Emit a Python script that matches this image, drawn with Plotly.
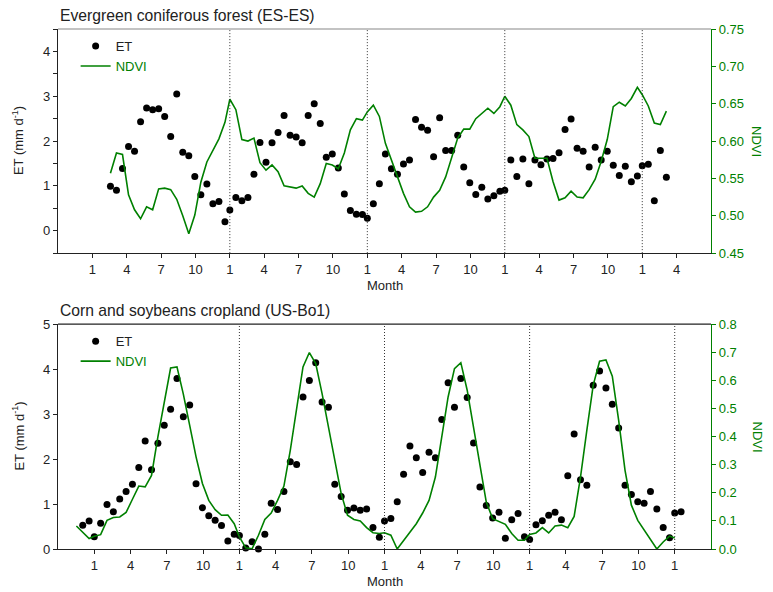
import plotly.graph_objects as go
from plotly.subplots import make_subplots

# ---------------- data (16-day composites) ----------------
COMPOSITE_DAYS = 16
COMPOSITES_PER_YEAR = 23
TICK_LABELS = ["1", "4", "7", "10"]

# Evergreen coniferous forest (ES-ES): first composite = year 0, composite #3
ES_START = (0, 3)
ES_ET = [
    0.99, 0.90, 1.39, 1.88, 1.77, 2.43, 2.74, 2.70, 2.72, 2.55, 2.10, 3.05, 1.75, 1.67, 1.21, 0.80, 1.04, 0.60, 0.65, 0.20,
    0.46, 0.74, 0.67, 0.74, 1.26, 1.97, 1.53, 1.96, 2.19, 2.57, 2.13, 2.09, 1.96, 2.57, 2.83, 2.39, 1.64, 1.71, 1.40, 0.82, 0.45, 0.37, 0.36,
    0.28, 0.60, 1.05, 1.71, 1.38, 1.26, 1.49, 1.58, 2.48, 2.31, 2.24, 1.65, 2.52, 1.79, 1.79, 2.13, 1.42, 1.07, 0.81, 0.97, 0.71, 0.78, 0.88,
    0.90, 1.58, 1.21, 1.60, 1.05, 1.58, 1.47, 1.60, 1.61, 1.74, 2.26, 2.49, 1.84, 1.77, 1.42, 1.86, 1.58, 1.77, 1.46, 1.23, 1.44, 1.09, 1.22,
    1.45, 1.48, 0.67, 1.79, 1.19,
]
ES_NDVI = [
    0.557, 0.584, 0.582, 0.528, 0.508, 0.496, 0.512, 0.508, 0.536, 0.537, 0.535, 0.522, 0.500, 0.476, 0.501, 0.545, 0.572, 0.587, 0.603, 0.625,
    0.656, 0.642, 0.602, 0.600, 0.604, 0.571, 0.561, 0.568, 0.559, 0.540, 0.539, 0.537, 0.540, 0.530, 0.525, 0.543, 0.570, 0.568, 0.563, 0.584, 0.615, 0.630, 0.628,
    0.639, 0.648, 0.633, 0.597, 0.575, 0.552, 0.530, 0.512, 0.505, 0.506, 0.512, 0.525, 0.534, 0.552, 0.577, 0.604, 0.616, 0.616, 0.630, 0.637, 0.644, 0.637, 0.646,
    0.660, 0.648, 0.622, 0.615, 0.606, 0.577, 0.577, 0.577, 0.546, 0.521, 0.524, 0.533, 0.525, 0.524, 0.535, 0.549, 0.573, 0.602, 0.646, 0.652, 0.647, 0.657, 0.672,
    0.662, 0.647, 0.624, 0.622, 0.640,
]

# Corn and soybeans cropland (US-Bo1)
BO_ET_START = (-1, 21)
BO_ET = [
    0.53, 0.62,
    0.27, 0.57, 0.99, 0.83, 1.11, 1.28, 1.44, 1.81, 2.40, 1.76, 2.35, 2.75, 3.11, 3.79, 2.94, 3.20, 1.45, 0.92, 0.74, 0.64, 0.52, 0.18, 0.33,
    0.30, 0.02, 0.16, 0.00, 0.33, 1.02, 0.88, 1.28, 1.94, 1.88, 3.38, 3.75, 4.14, 3.27, 3.15, 1.44, 1.17, 0.86, 0.91, 0.86, 0.89, 0.48, 0.26,
    0.62, 0.68, 1.05, 1.66, 2.29, 2.03, 1.70, 2.15, 2.03, 2.88, 3.70, 3.15, 3.79, 3.37, 2.36, 1.38, 0.97, 0.69, 0.82, 0.24, 0.65, 0.79, 0.27,
    0.21, 0.54, 0.63, 0.75, 0.82, 0.65, 1.63, 2.56, 1.54, 1.42, 3.64, 3.96, 3.58, 3.22, 2.69, 1.42, 1.21, 1.05, 1.02, 1.28, 0.89, 0.48, 0.25,
    0.80, 0.83,
]
BO_NDVI_START = (-1, 20)
BO_NDVI = [
    0.082, 0.058, 0.037,
    0.045, 0.051, 0.102, 0.112, 0.114, 0.130, 0.177, 0.224, 0.221, 0.262, 0.399, 0.523, 0.644, 0.648, 0.551, 0.440, 0.328, 0.233, 0.173, 0.140, 0.120, 0.121, 0.090,
    0.043, 0.004, 0.001, 0.049, 0.105, 0.128, 0.173, 0.224, 0.351, 0.496, 0.648, 0.699, 0.660, 0.553, 0.434, 0.310, 0.197, 0.120, 0.105, 0.100, 0.076, 0.058, 0.055,
    0.058, 0.049, 0.000, 0.031, 0.061, 0.090, 0.128, 0.173, 0.256, 0.399, 0.541, 0.642, 0.663, 0.565, 0.434, 0.292, 0.167, 0.108, 0.099, 0.088, 0.055, 0.031, 0.031,
    0.052, 0.057, 0.076, 0.057, 0.082, 0.085, 0.076, 0.116, 0.256, 0.423, 0.583, 0.668, 0.673, 0.615, 0.458, 0.280, 0.156, 0.102, 0.067, 0.033, 0.000, 0.025, 0.046,
    0.039,
]


def composite_months(start, n):
    """Month position (0 = Jan 1 of first year) of each 16-day composite."""
    year, k = start
    out = []
    for _ in range(n):
        out.append(year * 12 + COMPOSITE_DAYS * k * 12 / 365)
        k += 1
        if k == COMPOSITES_PER_YEAR:
            k, year = 0, year + 1
    return out


GREEN = "#008000"
DARK = "#222"
FONT = "Liberation Sans, Arial, sans-serif"

fig = make_subplots(rows=2, cols=1, specs=[[{"secondary_y": True}], [{"secondary_y": True}]])

# top panel
fig.add_trace(go.Scatter(x=composite_months(ES_START, len(ES_ET)), y=ES_ET, mode="markers", name="ET",
                         marker=dict(color="black", size=7), cliponaxis=False, legend="legend"),
              row=1, col=1, secondary_y=False)
fig.add_trace(go.Scatter(x=composite_months(ES_START, len(ES_NDVI)), y=ES_NDVI, mode="lines",
                         name=f"<span style='color:{GREEN}'>NDVI</span>",
                         line=dict(color=GREEN, width=1.6), legend="legend"),
              row=1, col=1, secondary_y=True)
# bottom panel
fig.add_trace(go.Scatter(x=composite_months(BO_ET_START, len(BO_ET)), y=BO_ET, mode="markers", name="ET",
                         marker=dict(color="black", size=7), cliponaxis=False, legend="legend2"),
              row=2, col=1, secondary_y=False)
fig.add_trace(go.Scatter(x=composite_months(BO_NDVI_START, len(BO_NDVI)), y=BO_NDVI, mode="lines",
                         name=f"<span style='color:{GREEN}'>NDVI</span>",
                         line=dict(color=GREEN, width=1.6), legend="legend2"),
              row=2, col=1, secondary_y=True)

# The page body has an 8px margin, so the figure is drawn 8px smaller and everything
# is laid out in page pixels minus that offset.
OFF = 8
W, H = 773 - OFF, 592 - OFF
PLOT_L, PLOT_R = 58 - OFF, 711.5 - OFF
TOP_T, TOP_B = 29 - OFF, 253 - OFF
BOT_T, BOT_B = 324 - OFF, 548.7 - OFF
ML, MR, MT, MB = PLOT_L, W - PLOT_R, TOP_T, H - BOT_B
PH = H - MT - MB
top_dom = [(BOT_B - TOP_B) / PH, 1.0]
bot_dom = [0.0, (BOT_B - BOT_T) / PH]

tickfont = dict(family=FONT, size=13, color=DARK)
xcommon = dict(showgrid=False, zeroline=False, showline=True, linecolor=DARK, linewidth=1.2, automargin=False,
               ticks="outside", ticklen=4, tickcolor=DARK, tickfont=tickfont)
ycommon = dict(showgrid=False, zeroline=False, showline=True, linecolor=DARK, linewidth=1.2, automargin=False,
               ticks="outside", ticklen=4, tickcolor=DARK, tickfont=tickfont)
rcommon = dict(showgrid=False, zeroline=False, showline=True, linecolor=GREEN, linewidth=1.2, automargin=False,
               ticks="outside", ticklen=4, tickcolor=GREEN, tickfont=dict(family=FONT, size=13, color=GREEN))

legend_common = dict(x=0.027, xanchor="left", yanchor="top", bgcolor="rgba(0,0,0,0)",
                     font=dict(family=FONT, size=13, color=DARK), tracegroupgap=0, itemwidth=30)

fig.update_layout(
    width=W, height=H, margin=dict(l=ML, r=MR, t=MT, b=MB, autoexpand=False),
    paper_bgcolor="white", plot_bgcolor="white",
    font=dict(family=FONT, size=13, color=DARK),
    xaxis=dict(**xcommon, domain=[0, 1], anchor="y", range=[-3, 54],
               tickvals=list(range(0, 52, 3)), ticktext=[TICK_LABELS[(i // 3) % 4] for i in range(0, 52, 3)]),
    yaxis=dict(**ycommon, domain=top_dom, anchor="x", range=[-0.5, 4.5], tick0=0, dtick=1,
               minor=dict(dtick=0.5, tick0=0, ticks="outside", ticklen=4, tickcolor=DARK, showgrid=False)),
    yaxis2=dict(**rcommon, anchor="x", overlaying="y", side="right", range=[0.45, 0.75], tick0=0.45, dtick=0.05,
                tickformat=".2f"),
    xaxis2=dict(**xcommon, domain=[0, 1], anchor="y3", range=[-3, 51],
                tickvals=list(range(0, 49, 3)), ticktext=[TICK_LABELS[(i // 3) % 4] for i in range(0, 49, 3)]),
    yaxis3=dict(**ycommon, domain=bot_dom, anchor="x2", range=[0, 5], dtick=1),
    yaxis4=dict(**rcommon, anchor="x2", overlaying="y3", side="right", range=[0, 0.8], dtick=0.1,
                tickformat=".1f"),
    legend=dict(**legend_common, y=top_dom[1] - 0.004),
    legend2=dict(**legend_common, y=bot_dom[1] - 0.004),
    showlegend=True,
)

# year boundaries (dotted) and top frame lines
shapes = []
for xr, yr, col in (("x", "y", "#888"), ("x2", "y3", DARK)):
    for b in (12, 24, 36, 48):
        shapes.append(dict(type="line", xref=xr, yref=f"{yr} domain", x0=b, x1=b, y0=0, y1=1,
                           line=dict(color="#333", width=1, dash="1px,2px")))
    shapes.append(dict(type="line", xref=f"{xr} domain", yref=f"{yr} domain",
                       x0=0, x1=1, y0=1, y1=1, line=dict(color=col, width=1.2)))
fig.update_layout(shapes=shapes)

# panel titles and axis titles
ann = []
for dom, txt in ((top_dom, "Evergreen coniferous forest (ES-ES)"), (bot_dom, "Corn and soybeans cropland (US-Bo1)")):
    mid = (dom[0] + dom[1]) / 2
    ann.append(dict(text=txt, xref="paper", yref="paper", x=0, y=dom[1], xanchor="left", yanchor="bottom",
                    yshift=3, showarrow=False, font=dict(family=FONT, size=15.7, color=DARK)))
    ann.append(dict(text="NDVI", xref="paper", yref="paper", x=1, y=mid, xanchor="center",
                    yanchor="middle", xshift=46, textangle=90, showarrow=False,
                    font=dict(family=FONT, size=13, color=GREEN)))
    ann.append(dict(text="ET (mm d<sup>-1</sup>)", xref="paper", yref="paper", x=0, y=mid, xanchor="center",
                    yanchor="middle", xshift=-40, textangle=-90, showarrow=False,
                    font=dict(family=FONT, size=13, color=DARK)))
    ann.append(dict(text="Month", xref="paper", yref="paper", x=0.5, y=dom[0], xanchor="center",
                    yanchor="middle", yshift=-32, showarrow=False,
                    font=dict(family=FONT, size=13, color=DARK)))
fig.update_layout(annotations=ann)

fig.write_html("out.html")
